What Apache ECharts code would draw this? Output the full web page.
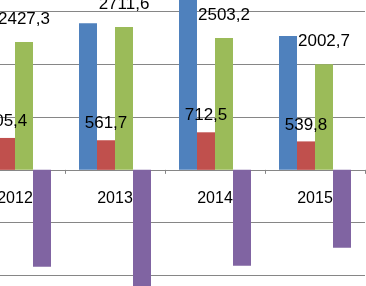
<!DOCTYPE html>
<html>
<head>
<meta charset="utf-8">
<script src="https://cdn.jsdelivr.net/npm/echarts@6/dist/echarts.min.js"></script>
<style>
  html, body { margin: 0; padding: 0; background: #fff; }
  #chart { width: 366px; height: 286px; }
</style>
</head>
<body>
<div id="chart"></div>
<script>
// Categories (years)
var years = ['2012', '2013', '2014', '2015'];
// Series values
var blueValues   = [2600, 2780, 3400, 2540];
var redValues    = [605.4, 561.7, 712.5, 539.8];
var greenValues  = [2427.3, 2711.6, 2503.2, 2002.7];
var purpleValues = [-1840, -2300, -1820, -1480];
// Value axis ticks
var yMin = -3000, yMax = 4000, yStep = 1000;

function fmt(p) { return p.value.toFixed(1).replace('.', ','); }

var labelFont = { fontFamily: 'Liberation Sans, Arial, sans-serif', fontSize: 17, color: '#000' };

var gridTop = -41, gridHeight = 369;
var zeroOffset = -(gridHeight * (0 - yMin) / (yMax - yMin));

var chart = echarts.init(document.getElementById('chart'), null, { renderer: 'canvas' });
chart.setOption({
  animation: false,
  backgroundColor: '#fff',
  grid: { left: -35, top: gridTop, width: 400, height: gridHeight, containLabel: false, outerBoundsMode: 'none' },
  xAxis: {
    type: 'category',
    data: years,
    position: 'bottom',
    offset: zeroOffset,
    axisLine: { show: true, onZero: false, lineStyle: { color: '#868686', width: 1 } },
    axisTick: { show: true, length: 4, lineStyle: { color: '#868686' } },
    axisLabel: { show: true, margin: 21, fontFamily: 'Liberation Sans, Arial, sans-serif', fontSize: 16, color: '#000' }
  },
  yAxis: {
    type: 'value',
    min: yMin, max: yMax, interval: yStep,
    axisLine: { show: false },
    axisTick: { show: false },
    axisLabel: { show: false },
    splitLine: { show: true, lineStyle: { color: '#868686', width: 1 } }
  },
  series: [
    { type: 'bar', data: blueValues, barWidth: 18, barGap: '0%',
      itemStyle: { color: '#4F81BD' } },
    { type: 'bar', data: redValues, barWidth: 18, barGap: '0%',
      itemStyle: { color: '#C0504D' },
      label: Object.assign({ show: true, position: 'top', distance: 8, formatter: fmt }, labelFont) },
    { type: 'bar', data: greenValues, barWidth: 18, barGap: '0%',
      itemStyle: { color: '#9BBB59' },
      label: Object.assign({ show: true, position: 'top', distance: 14, formatter: fmt }, labelFont) },
    { type: 'bar', data: purpleValues, barWidth: 18, barGap: '0%',
      itemStyle: { color: '#8064A2' } }
  ]
});
</script>
</body>
</html>
